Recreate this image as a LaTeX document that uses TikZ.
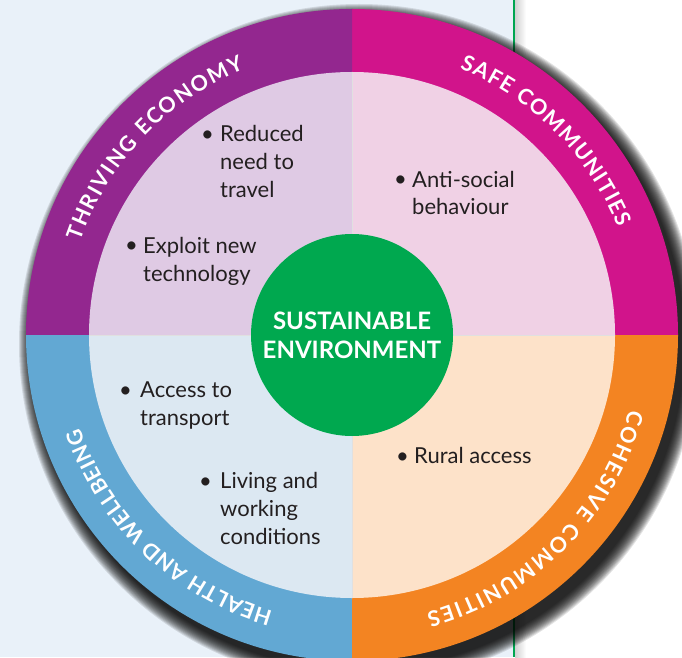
\documentclass[tikz,border=0pt]{standalone}
\usepackage{fontspec}
\setmainfont{Lato}
\usetikzlibrary{decorations.text}
\definecolor{bgblue}{HTML}{E9F1F9}
\definecolor{linegreen}{HTML}{00A651}
\definecolor{ringpurple}{HTML}{93278F}
\definecolor{ringmagenta}{HTML}{D1148B}
\definecolor{ringorange}{HTML}{F38422}
\definecolor{ringblue}{HTML}{62A8D3}
\definecolor{palepurple}{HTML}{DFCAE4}
\definecolor{palepink}{HTML}{F0D1E5}
\definecolor{palepeach}{HTML}{FDE2C9}
\definecolor{paleblue}{HTML}{DCE8F2}
\definecolor{coregreen}{HTML}{00A84F}
\definecolor{textgray}{HTML}{231F20}
\newcommand\arcfnt{\color{white}\fontsize{21.5}{21.5}\selectfont\bfseries}
\newcommand\itemfnt{\fontsize{22}{28}\selectfont}
\tikzset{
  itemtext/.style={anchor=base west, align=left, inner sep=0pt, font=\itemfnt, text=textgray},
  bul/.style={anchor=base west, inner sep=0pt, font=\itemfnt, text=textgray},
  arclabel/.style={decorate, decoration={text along path, text align={fit to path}, text={|\arcfnt|#1}}},
  divider/.style={draw=black!12, line width=0.6pt}
}
\begin{document}
\begin{tikzpicture}[x=1pt,y=1pt]
\useasboundingbox (0,0) rectangle (682,657);
\fill[bgblue] (0,0) rectangle (515,657);
\fill[white] (515,0) rectangle (682,657);
\shade[left color=black!18, right color=white] (515,0) rectangle (526,657);
\draw[linegreen, line width=1.8pt] (514,0) -- (514,657);
\coordinate (c) at (352,322);
\coordinate (sc) at (359,313);
% shadow
\foreach \k in {0,...,14} {
  \fill[black, opacity=0.11] (sc) circle ({340-\k});
}
% outer ring
\fill[ringmagenta] (c) -- ([shift={(0:326)}]c) arc[start angle=0, end angle=90, radius=326] -- cycle;
\fill[ringpurple] (c) -- ([shift={(90:326)}]c) arc[start angle=90, end angle=180, radius=326] -- cycle;
\fill[ringblue] (c) -- ([shift={(180:326)}]c) arc[start angle=180, end angle=270, radius=326] -- cycle;
\fill[ringorange] (c) -- ([shift={(270:326)}]c) arc[start angle=270, end angle=360, radius=326] -- cycle;
% pale quadrants
\fill[palepink] (c) -- ([shift={(0:263)}]c) arc[start angle=0, end angle=90, radius=263] -- cycle;
\fill[palepurple] (c) -- ([shift={(90:263)}]c) arc[start angle=90, end angle=180, radius=263] -- cycle;
\fill[paleblue] (c) -- ([shift={(180:263)}]c) arc[start angle=180, end angle=270, radius=263] -- cycle;
\fill[palepeach] (c) -- ([shift={(270:263)}]c) arc[start angle=270, end angle=360, radius=263] -- cycle;
\draw[divider] ([shift={(90:263)}]c) -- ([shift={(270:263)}]c);
\draw[divider] ([shift={(180:263)}]c) -- ([shift={(0:263)}]c);
% arc labels
\path[arclabel={THRIVING ECONOMY}] ([shift={(161:287)}]c) arc[start angle=161, end angle=112, radius=287];
\path[arclabel={SAFE COMMUNITIES}] ([shift={(68:287)}]c) arc[start angle=68, end angle=22, radius=287];
\path[arclabel={COHESIVE COMMUNITIES}] ([shift={(-15:287)}]c) arc[start angle=-15, end angle=-75, radius=287];
\path[arclabel={HEALTH AND WELLBEING}] ([shift={(254:287)}]c) arc[start angle=254, end angle=199, radius=287];
% centre
\node[circle, fill=coregreen, minimum size=202pt, inner sep=0pt, align=center, text=white,
      font=\fontsize{24}{29}\selectfont\bfseries] (core) at (c) {SUSTAINABLE\\ENVIRONMENT};
% items (base anchor = last line)
\node[bul] (b1) at (201,515) {•};
\node[itemtext] (t1) at (220,459) {Reduced\\need to\\travel};
\node[bul] (b2) at (125,404) {•};
\node[itemtext] (t2) at (143,376) {Exploit new\\technology};
\node[bul] (b3) at (394,470) {•};
\node[itemtext] (t3) at (412,442) {Anti-social\\behaviour};
\node[bul] (b4) at (119,260) {•};
\node[itemtext] (t4) at (140,232) {Access to\\transport};
\node[bul] (b5) at (199,169) {•};
\node[itemtext] (t5) at (220,113) {Living and\\working\\conditions};
\node[bul] (b6) at (396,194) {•};
\node[itemtext] (t6) at (414,194) {Rural access};
\end{tikzpicture}
\end{document}
